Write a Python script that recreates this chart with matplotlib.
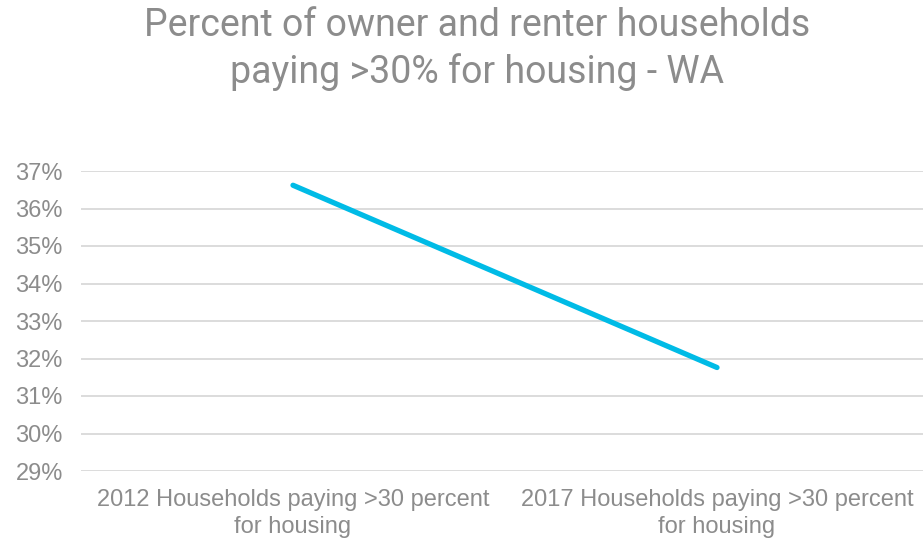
import matplotlib.pyplot as plt
from matplotlib.ticker import PercentFormatter

# Share of WA households paying more than 30% of income for housing
categories = ["2012 Households paying >30 percent\nfor housing",
              "2017 Households paying >30 percent\nfor housing"]
share_pct = [36.62, 31.76]
y_ticks = [29, 30, 31, 32, 33, 34, 35, 36, 37]

text_grey = '#8C8C8C'
grid_grey = '#D9D9D9'
line_blue = '#00BBE6'

fig = plt.figure(figsize=(9.23, 5.43), dpi=100)
fig.patch.set_facecolor('white')
ax = fig.add_axes([81 / 923, 1 - 471 / 543, 848 / 923, 300 / 543])

x = list(range(len(categories)))
ax.plot(x, share_pct, color=line_blue, linewidth=3.8, solid_capstyle='round', zorder=3)

ax.set_xlim(-0.5, 1.5)
ax.set_ylim(29, 37)
ax.set_yticks(y_ticks)
ax.yaxis.set_major_formatter(PercentFormatter(decimals=0))
ax.set_xticks(x)
ax.set_xticklabels(categories, linespacing=1.3)

ax.grid(axis='y', color=grid_grey, linewidth=1.3)
ax.set_axisbelow(True)
for spine in ax.spines.values():
    spine.set_visible(False)
ax.tick_params(axis='both', length=0, colors=text_grey, labelsize=17)
ax.tick_params(axis='y', pad=13)
ax.tick_params(axis='x', pad=13)
for lbl in ax.get_xticklabels() + ax.get_yticklabels():
    lbl.set_fontfamily('Liberation Sans')

fig.text(477 / 923, 1 - 49 / 543, 'Percent of owner and renter households\npaying >30% for housing - WA',
         ha='center', va='center', fontsize=27, color=text_grey,
         family='Roboto', linespacing=1.32)

fig.savefig('out.png', dpi=100, facecolor='white')
